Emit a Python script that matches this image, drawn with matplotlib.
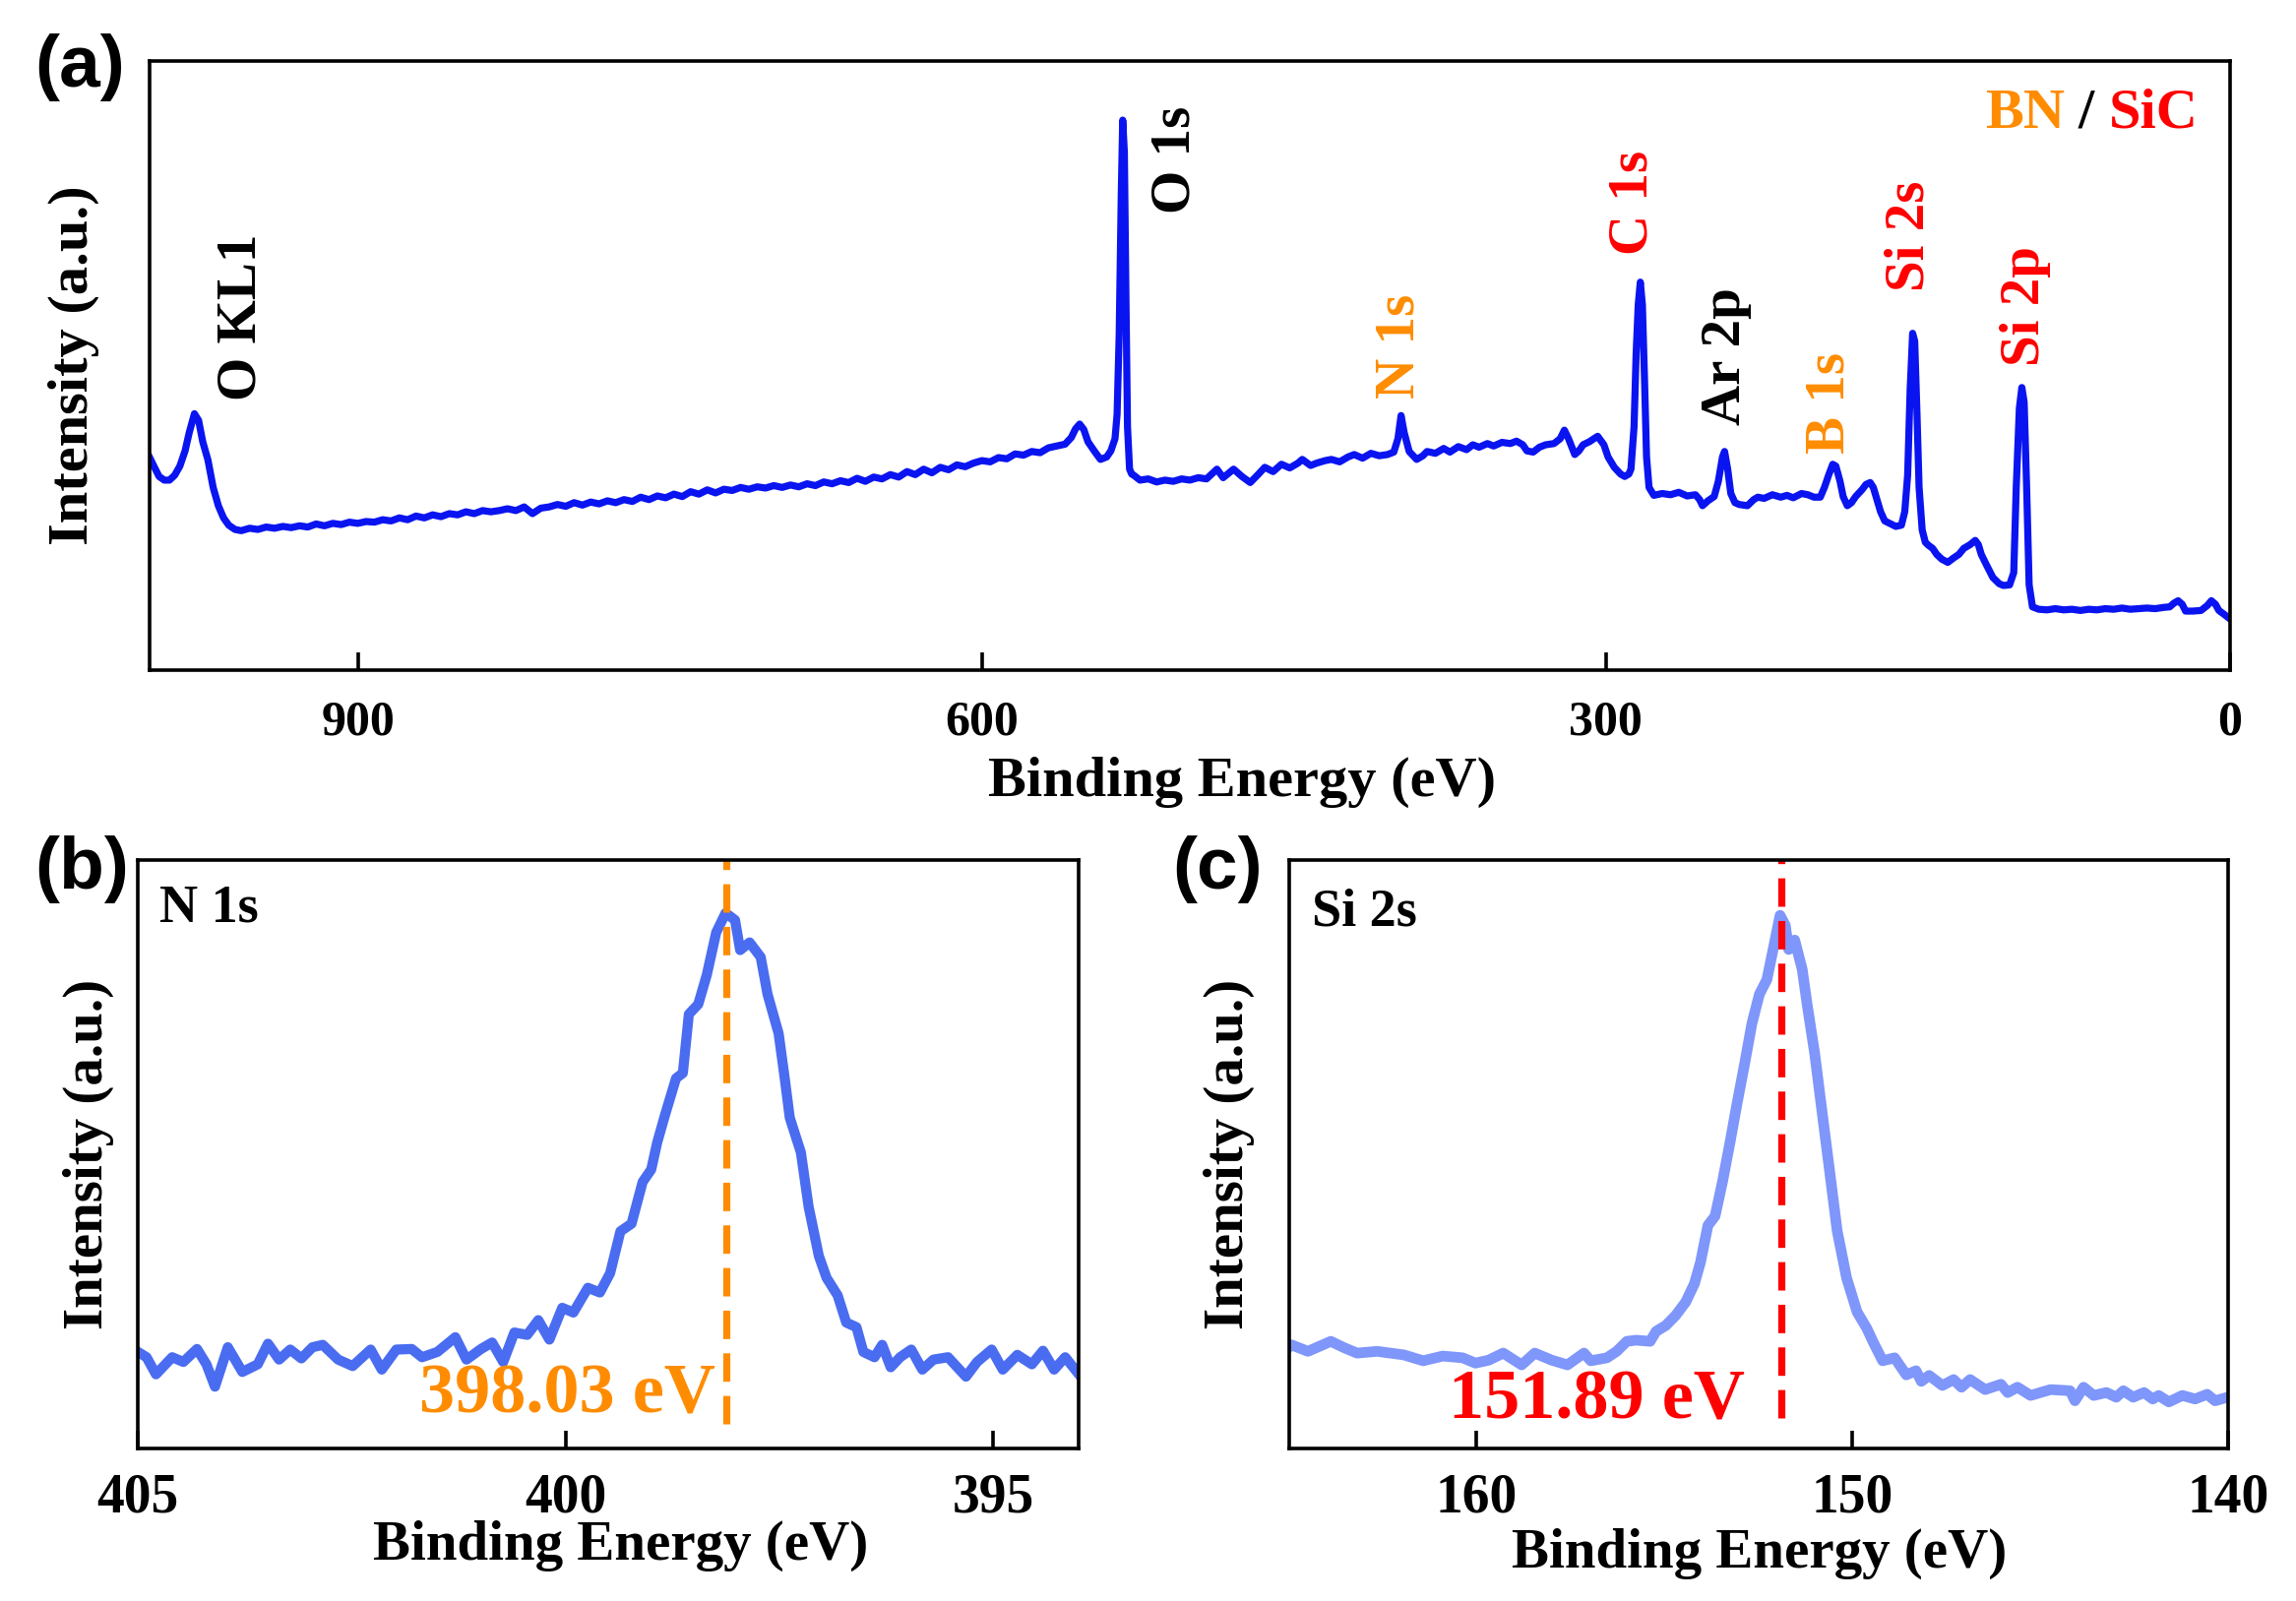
import matplotlib
matplotlib.use("Agg")
import matplotlib.pyplot as plt

plt.rcParams['font.family'] = ['Liberation Serif', 'DejaVu Serif']
plt.rcParams['font.weight'] = 'bold'
plt.rcParams['axes.labelweight'] = 'bold'

# ---- survey spectrum (a), intensity in arbitrary normalised units ----
survey_be = [1000, 998, 995.5, 993, 990.5, 988, 985.5, 983, 981, 978.5, 976.5, 974.5, 972, 969.5, 967, 964.5, 962, 959,
             956, 952, 948, 944, 940, 936, 932, 928, 924, 920, 916, 912, 908, 904, 900, 896, 892, 888, 884, 880,
             876, 872, 868, 864, 860, 856, 852, 848, 844, 840, 836, 832, 828, 824, 820, 816, 812, 808, 804, 800,
             796, 792, 788, 784, 780, 776, 772, 768, 764, 760, 756, 752, 748, 744, 740, 736, 732, 728, 724, 720,
             716, 712, 708, 704, 700, 696, 692, 688, 684, 680, 676, 672, 668, 664, 660, 656, 652, 648, 644, 640,
             636, 632, 628, 624, 620, 616, 612, 608, 604, 600, 596, 592, 588, 584, 580, 576, 572, 568, 564, 560,
             557, 555, 553, 551, 549, 546, 543, 540, 538, 536, 535, 534, 533, 532.3, 531.5, 530.7, 530, 529, 528,
             527, 524, 520, 516, 512, 508, 504, 500, 496, 492, 487, 484, 479, 475, 471, 467, 464, 460, 456, 452,
             448, 446, 442, 439, 435, 432, 428, 424, 421, 417, 413, 409, 405, 402, 400, 398.5, 397, 394.6, 391,
             388, 386, 382, 378, 375, 371, 367, 364, 361, 357, 354, 350, 346, 343, 340, 338, 335, 332, 329, 325,
             322, 320, 318, 315, 313, 311, 308, 304, 301, 299, 296, 293, 291, 289, 288, 286.5, 285.5, 284.5, 283.5,
             282.5, 281.5, 280.5, 279.3, 277, 273, 269, 265, 261, 257, 255, 253.6, 251, 248, 246, 244, 243, 241.5,
             240, 238, 236, 232, 229, 227, 224, 220, 216, 213, 210, 206, 203, 200, 197, 195, 193, 191, 189.5,
             187.5, 186, 184, 182, 180, 177, 175, 173, 171.5, 169.6, 168, 166, 163, 160.7, 158, 156.4, 155, 153.8,
             152.6, 151.6, 150.5, 149.5, 148, 146.5, 145, 143, 141, 138.5, 135.7, 133, 130.4, 128, 125, 122.5, 121,
             119.6, 117, 114, 111, 109, 106, 104, 102.8, 101.3, 100.1, 99, 97.8, 96.6, 95, 92, 88, 84, 80, 76, 72,
             68, 64, 60, 56, 52, 48, 44, 40, 36, 32, 29, 27, 25, 23, 21.4, 18, 14, 11, 9, 7, 5.4, 3, 0]
survey_int = [0.349, 0.335, 0.318, 0.312, 0.312, 0.32, 0.335, 0.36, 0.39, 0.421, 0.41, 0.375, 0.345, 0.3, 0.27, 0.25,
              0.238, 0.231, 0.229, 0.233, 0.231, 0.235, 0.233, 0.236, 0.234, 0.237, 0.235, 0.24, 0.237, 0.241, 0.239,
              0.243, 0.241, 0.244, 0.243, 0.247, 0.245, 0.25, 0.247, 0.253, 0.25, 0.255, 0.252, 0.257, 0.255, 0.26,
              0.257, 0.262, 0.26, 0.262, 0.265, 0.262, 0.268, 0.257, 0.266, 0.268, 0.272, 0.269, 0.275, 0.271, 0.276,
              0.273, 0.278, 0.275, 0.28, 0.277, 0.284, 0.28, 0.286, 0.283, 0.289, 0.285, 0.293, 0.289, 0.296, 0.291,
              0.297, 0.295, 0.3, 0.297, 0.301, 0.299, 0.303, 0.3, 0.304, 0.301, 0.306, 0.303, 0.309, 0.306, 0.311,
              0.308, 0.315, 0.31, 0.317, 0.314, 0.321, 0.317, 0.326, 0.321, 0.33, 0.324, 0.333, 0.329, 0.337, 0.334,
              0.34, 0.344, 0.342, 0.349, 0.347, 0.355, 0.353, 0.359, 0.357, 0.365, 0.368, 0.371, 0.382, 0.396, 0.404,
              0.395, 0.375, 0.36, 0.346, 0.35, 0.36, 0.38, 0.42, 0.55, 0.78, 0.903, 0.85, 0.6, 0.4, 0.33, 0.322,
              0.32, 0.312, 0.314, 0.309, 0.312, 0.31, 0.314, 0.312, 0.316, 0.314, 0.33, 0.316, 0.33, 0.318, 0.308,
              0.322, 0.333, 0.326, 0.338, 0.332, 0.34, 0.346, 0.336, 0.34, 0.344, 0.346, 0.342, 0.35, 0.354, 0.348,
              0.356, 0.352, 0.354, 0.358, 0.38, 0.418, 0.39, 0.359, 0.346, 0.352, 0.359, 0.356, 0.364, 0.358, 0.367,
              0.362, 0.37, 0.366, 0.372, 0.368, 0.374, 0.372, 0.376, 0.37, 0.36, 0.358, 0.366, 0.37, 0.372, 0.38,
              0.394, 0.38, 0.354, 0.36, 0.37, 0.375, 0.384, 0.37, 0.35, 0.333, 0.322, 0.318, 0.322, 0.33, 0.4, 0.52,
              0.6, 0.637, 0.6, 0.48, 0.35, 0.3, 0.287, 0.29, 0.288, 0.292, 0.286, 0.288, 0.28, 0.27, 0.278, 0.285,
              0.31, 0.35, 0.359, 0.33, 0.29, 0.275, 0.272, 0.27, 0.28, 0.284, 0.282, 0.288, 0.284, 0.287, 0.283,
              0.29, 0.288, 0.284, 0.284, 0.3, 0.32, 0.338, 0.335, 0.31, 0.285, 0.27, 0.275, 0.285, 0.296, 0.305,
              0.308, 0.3, 0.278, 0.26, 0.245, 0.24, 0.236, 0.238, 0.26, 0.32, 0.46, 0.553, 0.54, 0.42, 0.3, 0.23,
              0.21, 0.205, 0.2, 0.19, 0.182, 0.177, 0.184, 0.19, 0.2, 0.206, 0.213, 0.206, 0.19, 0.172, 0.152, 0.142,
              0.139, 0.14, 0.16, 0.3, 0.43, 0.464, 0.44, 0.3, 0.14, 0.104, 0.1, 0.099, 0.101, 0.099, 0.1, 0.098, 0.1,
              0.099, 0.101, 0.1, 0.102, 0.1, 0.101, 0.102, 0.101, 0.103, 0.104, 0.11, 0.114, 0.108, 0.097, 0.097,
              0.098, 0.106, 0.114, 0.108, 0.098, 0.092, 0.084]

# ---- N 1s high resolution (b) ----
n1s_be = [405.0, 404.9, 404.79, 404.6, 404.47, 404.31, 404.2, 404.1, 403.95, 403.78, 403.6, 403.48, 403.35, 403.22,
          403.09, 402.96, 402.84, 402.66, 402.49, 402.28, 402.15, 401.98, 401.8, 401.68, 401.5, 401.29, 401.16,
          400.99, 400.86, 400.73, 400.6, 400.45, 400.32, 400.19, 400.04, 399.91, 399.74, 399.6, 399.48, 399.36,
          399.23, 399.1, 399.0, 398.93, 398.84, 398.71, 398.63, 398.56, 398.45, 398.35, 398.24, 398.13, 398.02,
          397.96, 397.85, 397.72, 397.64, 397.51, 397.44, 397.38, 397.25, 397.16, 397.04, 396.95, 396.82, 396.72,
          396.6, 396.52, 396.39, 396.3, 396.2, 396.09, 395.96, 395.83, 395.7, 395.53, 395.32, 395.19, 395.02,
          394.89, 394.72, 394.55, 394.42, 394.29, 394.16, 394.0]
n1s_int = [0.164, 0.155, 0.126, 0.155, 0.147, 0.169, 0.143, 0.105, 0.172, 0.13, 0.143, 0.178, 0.151, 0.168, 0.153,
           0.172, 0.176, 0.151, 0.14, 0.168, 0.134, 0.168, 0.169, 0.155, 0.164, 0.189, 0.151, 0.169, 0.18, 0.147,
           0.197, 0.193, 0.218, 0.185, 0.239, 0.231, 0.273, 0.265, 0.298, 0.369, 0.382, 0.453, 0.474, 0.52, 0.566,
           0.629, 0.638, 0.738, 0.755, 0.805, 0.877, 0.91, 0.898, 0.847, 0.86, 0.835, 0.772, 0.705, 0.63, 0.562,
           0.503, 0.411, 0.327, 0.29, 0.26, 0.214, 0.206, 0.164, 0.155, 0.176, 0.138, 0.155, 0.168, 0.134, 0.151,
           0.155, 0.122, 0.147, 0.168, 0.134, 0.159, 0.143, 0.166, 0.134, 0.155, 0.126]

# ---- Si 2s high resolution (c) ----
si2s_be = [165.0, 164.93, 164.49, 163.88, 163.52, 163.18, 162.65, 161.94, 161.42, 160.9, 160.37, 160.03, 159.68,
           159.29, 158.8, 158.45, 158.0, 157.58, 157.14, 156.96, 156.53, 156.27, 156.0, 155.75, 155.38, 155.22,
           154.96, 154.7, 154.43, 154.2, 154.04, 153.84, 153.65, 153.45, 153.25, 153.06, 152.86, 152.67, 152.47,
           152.27, 152.08, 151.92, 151.78, 151.69, 151.53, 151.33, 151.2, 151.0, 150.8, 150.6, 150.4, 150.15,
           149.87, 149.61, 149.45, 149.19, 148.87, 148.56, 148.3, 148.16, 147.95, 147.6, 147.3, 147.09, 146.86,
           146.46, 146.04, 145.86, 145.6, 145.25, 144.72, 144.2, 144.07, 143.84, 143.57, 143.23, 142.97, 142.78,
           142.52, 142.23, 142.0, 141.84, 141.57, 141.21, 140.87, 140.55, 140.34, 140.0]
si2s_int = [0.172, 0.176, 0.165, 0.182, 0.171, 0.162, 0.165, 0.159, 0.149, 0.157, 0.154, 0.145, 0.15, 0.162, 0.142,
            0.162, 0.15, 0.142, 0.162, 0.149, 0.154, 0.165, 0.182, 0.184, 0.182, 0.199, 0.209, 0.226, 0.249, 0.28,
            0.316, 0.379, 0.395, 0.454, 0.521, 0.588, 0.655, 0.722, 0.772, 0.797, 0.856, 0.906, 0.889, 0.848,
            0.864, 0.814, 0.755, 0.672, 0.571, 0.471, 0.37, 0.29, 0.232, 0.204, 0.182, 0.149, 0.154, 0.125, 0.132,
            0.114, 0.124, 0.107, 0.117, 0.104, 0.117, 0.1, 0.109, 0.095, 0.104, 0.09, 0.1, 0.098, 0.081, 0.104,
            0.09, 0.095, 0.087, 0.098, 0.087, 0.095, 0.084, 0.09, 0.079, 0.09, 0.084, 0.092, 0.081, 0.087]

# peak labels for survey: (text, position eV, y, colour)
peak_names = ['O KL1', 'O 1s', 'N 1s', 'C 1s', 'Ar 2p', 'B 1s', 'Si 2s', 'Si 2p']
peak_be = [956, 507, 399, 287, 242, 192.5, 154, 98.5]
peak_y = [0.579, 0.838, 0.532, 0.768, 0.515, 0.439, 0.713, 0.598]
peak_col = ['black', 'black', '#FF8C00', 'red', 'black', '#FF8C00', 'red', 'red']

# dashed marker positions as drawn in the figure, and their annotations
n1s_mark = 398.12
si2s_mark = 151.89
n1s_text = '398.03 eV'
si2s_text = '151.89 eV'

fig = plt.figure(figsize=(11.665, 8.135), dpi=200)
ax_a = fig.add_axes([0.0652, 0.5814, 0.9061, 0.3805])
ax_b = fig.add_axes([0.0601, 0.0953, 0.4098, 0.3675])
ax_c = fig.add_axes([0.5613, 0.0953, 0.4090, 0.3675])

ax_a.plot(survey_be, survey_int, color='#0a14f0', lw=2.6, solid_joinstyle='round')
ax_a.set_xlim(1000, 0)
ax_a.set_ylim(0, 1)
ax_a.set_xticks([900, 600, 300, 0])
for name, x, y, c in zip(peak_names, peak_be, peak_y, peak_col):
    ax_a.text(x, y, name, rotation=90, ha='center', va='center', color=c, fontsize=20.5, fontweight='bold')
ax_a.text(0.9205, 0.913, 'BN', transform=ax_a.transAxes, ha='right', va='center', color='#FF8C00', fontsize=21)
ax_a.text(0.931, 0.913, '/', transform=ax_a.transAxes, ha='center', va='center', color='black', fontsize=21)
ax_a.text(0.9416, 0.913, 'SiC', transform=ax_a.transAxes, ha='left', va='center', color='red', fontsize=21)
ax_a.set_xlabel('Binding Energy (eV)', fontsize=21)
ax_a.xaxis.set_label_coords(0.525, -0.142)
ax_a.set_ylabel('Intensity (a.u.)', fontsize=21)
ax_a.yaxis.set_label_coords(-0.024, 0.5)
ax_a.tick_params(axis='x', direction='in', length=6.5, width=1.3, labelsize=18, pad=11)

ax_b.plot(n1s_be, n1s_int, color='#4a6cf0', lw=3.7, solid_joinstyle='round')
ax_b.plot([n1s_mark, n1s_mark], [0.042, 1.0], color='#FF8C00', lw=2.6, dashes=(4, 2))
ax_b.set_xlim(405, 394)
ax_b.set_ylim(0, 1)
ax_b.set_xticks([405, 400, 395])
ax_b.text(398.25, 0.09, n1s_text, ha='right', va='center', color='#FF8C00', fontsize=26)
ax_b.text(0.023, 0.917, 'N 1s', transform=ax_b.transAxes, ha='left', va='center', fontsize=19.5)
ax_b.set_xlabel('Binding Energy (eV)', fontsize=20.5)
ax_b.xaxis.set_label_coords(0.513, -0.122)
ax_b.set_ylabel('Intensity (a.u.)', fontsize=20.5)
ax_b.yaxis.set_label_coords(-0.025, 0.5)
ax_b.tick_params(axis='x', direction='in', length=6.5, width=1.3, labelsize=20, pad=9)

ax_c.plot(si2s_be, si2s_int, color='#7f96fa', lw=3.9, solid_joinstyle='round')
ax_c.plot([si2s_mark, si2s_mark], [0.052, 1.0], color='red', lw=2.6, dashes=(4, 2))
ax_c.set_xlim(165, 140)
ax_c.set_ylim(0, 1)
ax_c.set_xticks([160, 150, 140])
ax_c.text(152.85, 0.081, si2s_text, ha='right', va='center', color='red', fontsize=26)
ax_c.text(0.025, 0.91, 'Si 2s', transform=ax_c.transAxes, ha='left', va='center', fontsize=19.5)
ax_c.set_xlabel('Binding Energy (eV)', fontsize=20.5)
ax_c.xaxis.set_label_coords(0.501, -0.136)
ax_c.set_ylabel('Intensity (a.u.)', fontsize=20.5)
ax_c.yaxis.set_label_coords(-0.036, 0.5)
ax_c.tick_params(axis='x', direction='in', length=6.5, width=1.3, labelsize=20, pad=9)

for ax in (ax_a, ax_b, ax_c):
    ax.set_yticks([])
    for sp in ax.spines.values():
        sp.set_linewidth(1.3)
    ax.xaxis.label.set_va('top')

fig.text(0.015, 0.9576, '(a)', family='Liberation Sans', fontweight='bold', fontsize=27, ha='left', va='center')
fig.text(0.015, 0.4567, '(b)', family='Liberation Sans', fontweight='bold', fontsize=27, ha='left', va='center')
fig.text(0.5105, 0.4567, '(c)', family='Liberation Sans', fontweight='bold', fontsize=27, ha='left', va='center')

fig.savefig('out.png', dpi=200)
